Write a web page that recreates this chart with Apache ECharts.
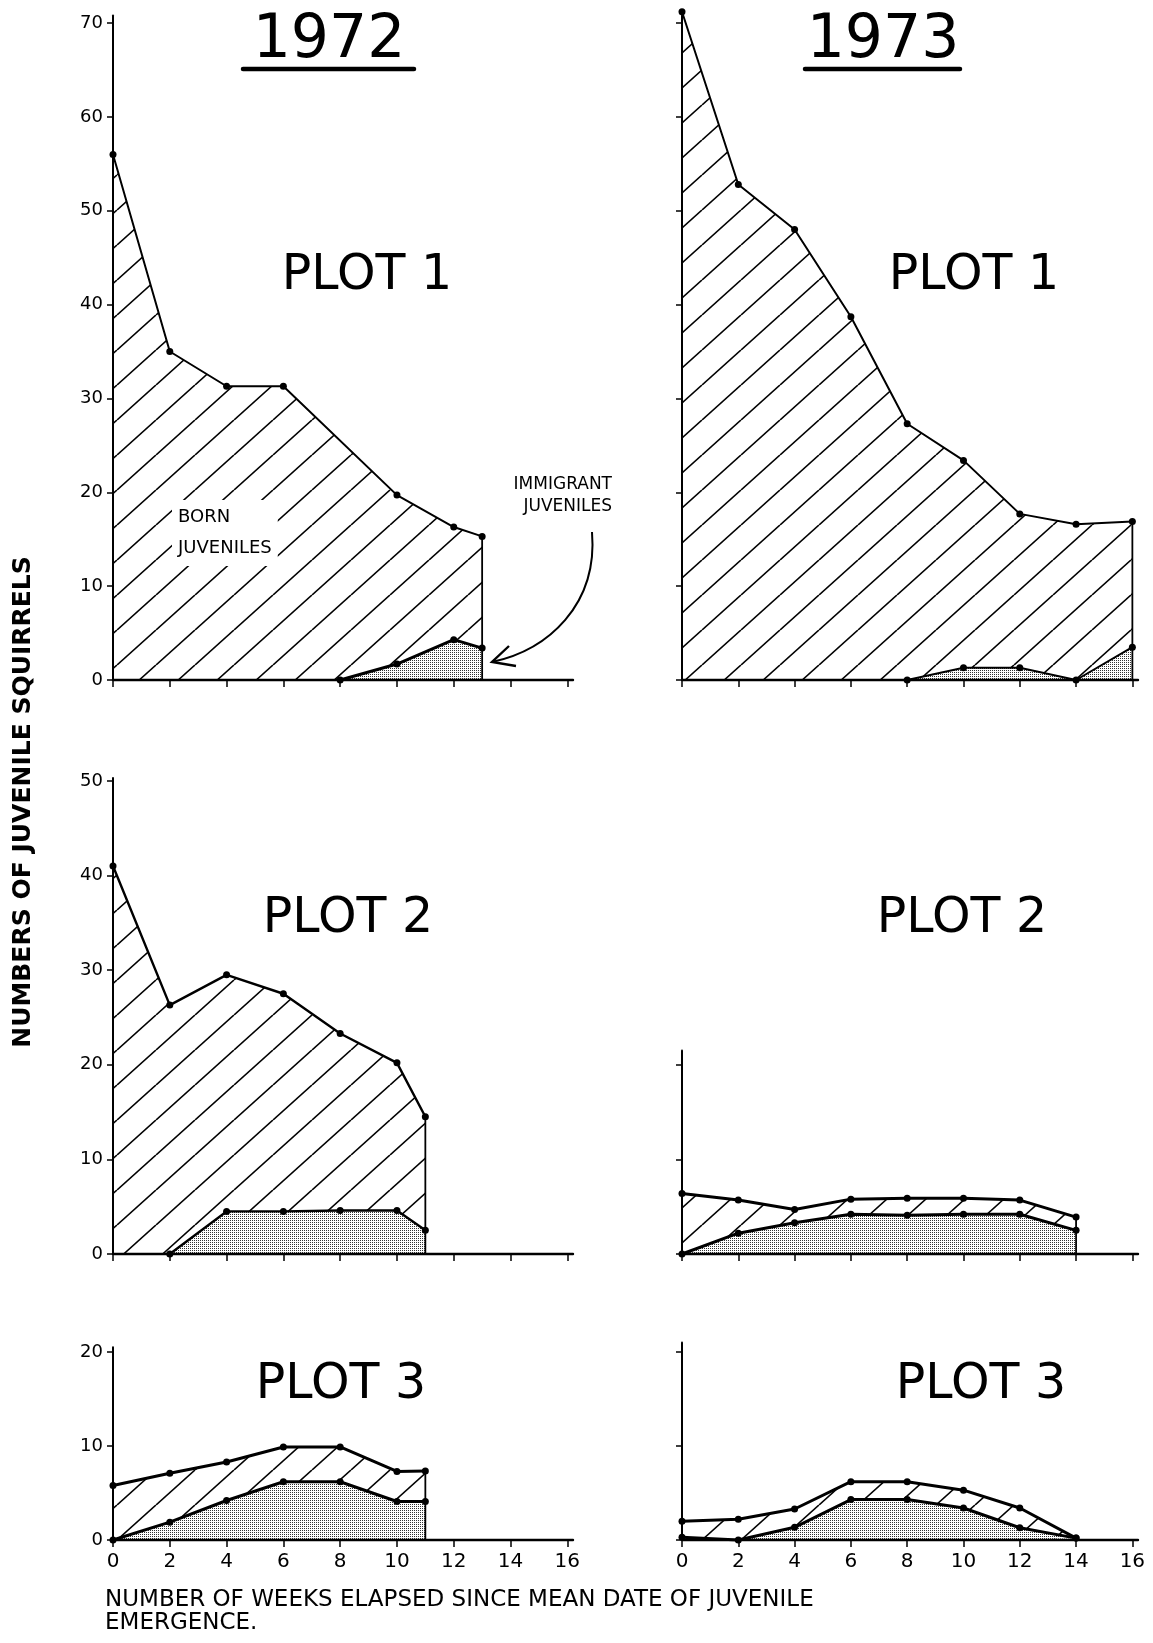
<!DOCTYPE html>
<html>
<head>
<meta charset="utf-8">
<script src="https://cdn.jsdelivr.net/npm/echarts@6/dist/echarts.min.js"></script>
<style>
html, body { margin: 0; background: #fff; }
#chart { width: 1153px; height: 1643px; }
</style>
</head>
<body>
<div id="chart"></div>
<script>
var weekTicks = [0, 2, 4, 6, 8, 10, 12, 14, 16];

// 1972 plot 1
var weeks72p1 = [0, 2, 4, 6, 10, 12, 13];
var total72p1 = [56, 35, 31.3, 31.3, 19.7, 16.3, 15.3];
var immWeeks72p1 = [8, 10, 12, 13];
var imm72p1 = [0, 1.7, 4.3, 3.4];

// 1973 plot 1
var weeks73p1 = [0, 2, 4, 6, 8, 10, 12, 14, 16];
var total73p1 = [71.2, 52.8, 48, 38.7, 27.3, 23.4, 17.7, 16.6, 16.9];
var immWeeks73p1 = [8, 10, 12, 14, 16];
var imm73p1 = [0, 1.3, 1.3, 0, 3.5];

// 1972 plot 2
var weeks72p2 = [0, 2, 4, 6, 8, 10, 11];
var total72p2 = [41, 26.3, 29.5, 27.5, 23.3, 20.2, 14.5];
var immWeeks72p2 = [2, 4, 6, 8, 10, 11];
var imm72p2 = [0, 4.5, 4.5, 4.6, 4.6, 2.5];

// 1973 plot 2
var weeks73p2 = [0, 2, 4, 6, 8, 10, 12, 14];
var total73p2 = [6.4, 5.7, 4.7, 5.8, 5.9, 5.9, 5.7, 3.9];
var imm73p2 = [0, 2.2, 3.3, 4.2, 4.1, 4.2, 4.2, 2.5];

// 1972 plot 3
var weeks72p3 = [0, 2, 4, 6, 8, 10, 11];
var total72p3 = [5.8, 7.1, 8.3, 9.9, 9.9, 7.3, 7.35];
var imm72p3 = [0, 1.9, 4.2, 6.2, 6.2, 4.1, 4.1];

// 1973 plot 3
var weeks73p3 = [0, 2, 4, 6, 8, 10, 12, 14];
var total73p3 = [2.0, 2.2, 3.3, 6.2, 6.2, 5.3, 3.4, 0.2];
var imm73p3 = [0.3, 0, 1.35, 4.3, 4.3, 3.4, 1.3, 0.2];

var ticks70 = [0, 10, 20, 30, 40, 50, 60, 70];
var ticks50 = [0, 10, 20, 30, 40, 50];
var ticks20 = [0, 10, 20];

var FONT = '"DejaVu Sans", sans-serif';

function pairs(xs, ys) {
    return xs.map(function (x, i) { return [x, ys[i]]; });
}

function hatchPattern() {
    var w = 39, h = 35;
    var c = document.createElement('canvas');
    c.width = w; c.height = h;
    var ctx = c.getContext('2d');
    ctx.strokeStyle = '#000';
    ctx.lineWidth = 1.6;
    [-w, 0, w].forEach(function (dx) {
        ctx.beginPath();
        ctx.moveTo(dx, h);
        ctx.lineTo(dx + w, 0);
        ctx.stroke();
    });
    return { image: c, repeat: 'repeat' };
}

function stipplePattern() {
    var c = document.createElement('canvas');
    c.width = 2; c.height = 2;
    var ctx = c.getContext('2d');
    ctx.fillStyle = '#fff';
    ctx.fillRect(0, 0, 2, 2);
    ctx.fillStyle = '#333';
    ctx.fillRect(0, 0, 1, 1);
    return { image: c, repeat: 'repeat' };
}

var hatch = hatchPattern();
var stipple = stipplePattern();

var panels = [
    { grid: { left: 113, width: 460, top: 15.5, height: 664.5 }, max: 70.8, ticks: ticks70, yLabels: true, xLabels: false,
      total: pairs(weeks72p1, total72p1), imm: pairs(immWeeks72p1, imm72p1), lw: 2 },
    { grid: { left: 682, width: 456, top: 15.5, height: 664.5 }, max: 70.8, ticks: ticks70, yLabels: false, xLabels: false,
      total: pairs(weeks73p1, total73p1), imm: pairs(immWeeks73p1, imm73p1), lw: 2 },
    { grid: { left: 113, width: 460, top: 778, height: 476 }, max: 50.3, ticks: ticks50, yLabels: true, xLabels: false,
      total: pairs(weeks72p2, total72p2), imm: pairs(immWeeks72p2, imm72p2), lw: 2.4 },
    { grid: { left: 682, width: 456, top: 1050.6, height: 203.4 }, max: 21.5, ticks: ticks20, yLabels: false, xLabels: false,
      total: pairs(weeks73p2, total73p2), imm: pairs(weeks73p2, imm73p2), lw: 3 },
    { grid: { left: 113, width: 460, top: 1347.3, height: 192.7 }, max: 20.5, ticks: ticks20, yLabels: true, xLabels: true,
      total: pairs(weeks72p3, total72p3), imm: pairs(weeks72p3, imm72p3), lw: 3 },
    { grid: { left: 682, width: 456, top: 1342.6, height: 197.4 }, max: 21, ticks: ticks20, yLabels: false, xLabels: true,
      total: pairs(weeks73p3, total73p3), imm: pairs(weeks73p3, imm73p3), lw: 3 }
];

var grids = [], xAxes = [], yAxes = [], series = [];

panels.forEach(function (p, i) {
    grids.push(p.grid);
    xAxes.push({
        type: 'value', gridIndex: i, min: 0, max: 16.2, z: 10,
        axisLine: { show: true, onZero: false, lineStyle: { color: '#000', width: 2.4 } },
        axisTick: { show: true, length: 7, customValues: weekTicks, lineStyle: { color: '#000', width: 1.5 } },
        axisLabel: { show: p.xLabels, customValues: weekTicks, margin: 12, color: '#000', fontSize: 20, fontFamily: FONT },
        splitLine: { show: false }
    });
    yAxes.push({
        type: 'value', gridIndex: i, min: 0, max: p.max, z: 10,
        axisLine: { show: true, onZero: false, lineStyle: { color: '#000', width: 2 } },
        axisTick: { show: true, length: 6, customValues: p.ticks, lineStyle: { color: '#000', width: 1.5 } },
        axisLabel: { show: p.yLabels, customValues: p.ticks, margin: 10, color: '#000', fontSize: 18, fontFamily: FONT },
        splitLine: { show: false }
    });

    var base = { type: 'line', xAxisIndex: i, yAxisIndex: i, clip: false, silent: true, animation: false };

    // hatched area under the total count
    series.push(Object.assign({}, base, {
        data: p.total, symbol: 'none', z: 1,
        lineStyle: { width: 0, opacity: 0 },
        areaStyle: { color: hatch, opacity: 1 }
    }));
    // stippled area under the immigrant count
    series.push(Object.assign({}, base, {
        data: p.imm, symbol: 'none', z: 2,
        lineStyle: { width: 0, opacity: 0 },
        areaStyle: { color: stipple, opacity: 1 }
    }));
    // lines with dots
    [p.total, p.imm].forEach(function (d, k) {
        series.push(Object.assign({}, base, {
            data: d, symbol: 'circle', symbolSize: 7, z: 4,
            itemStyle: { color: '#000' },
            lineStyle: { color: '#000', width: k === 1 && i === 0 ? 3 : p.lw }
        }));
    });
    // closing vertical edge at the last week
    var last = p.total[p.total.length - 1];
    if (last[1] > 1) {
        series.push(Object.assign({}, base, {
            data: [[last[0], last[1]], [last[0], 0]], symbol: 'none', z: 3,
            lineStyle: { color: '#000', width: 1.8 }
        }));
    }
});

function label(text, x, y, size, extra) {
    return {
        type: 'text', x: x, y: y, z: 20,
        style: Object.assign({
            text: text, font: size + 'px ' + FONT, fill: '#000',
            textAlign: 'center', textVerticalAlign: 'middle'
        }, extra || {})
    };
}

var yTitle = label('NUMBERS OF JUVENILE SQUIRRELS', 23, 802, 25, { font: 'bold 25px ' + FONT });
yTitle.rotation = Math.PI / 2;

var graphics = [
    label('1972', 329, 41, 60),
    label('1973', 883, 41, 60),
    { type: 'line', z: 20, shape: { x1: 243, y1: 69, x2: 414, y2: 69 }, style: { stroke: '#000', lineWidth: 4.5, lineCap: 'round' } },
    { type: 'line', z: 20, shape: { x1: 805, y1: 69, x2: 960, y2: 69 }, style: { stroke: '#000', lineWidth: 4.5, lineCap: 'round' } },
    label('PLOT 1', 367, 276, 49),
    label('PLOT 1', 974, 276, 49),
    label('PLOT 2', 348, 919, 49),
    label('PLOT 2', 962, 919, 49),
    label('PLOT 3', 341, 1385, 49),
    label('PLOT 3', 981, 1385, 49),
    label('BORN\nJUVENILES', 172, 533, 18, { textAlign: 'left', lineHeight: 31, backgroundColor: '#fff', padding: [2, 6] }),
    label('IMMIGRANT\nJUVENILES', 614, 496, 17, { textAlign: 'right', lineHeight: 22, backgroundColor: '#fff', padding: [2, 2] }),
    { type: 'bezierCurve', z: 20,
      shape: { x1: 592, y1: 532, cpx1: 598, cpy1: 605, cpx2: 548, cpy2: 650, x2: 492, y2: 662 },
      style: { stroke: '#000', lineWidth: 2, fill: null } },
    { type: 'polyline', z: 20,
      shape: { points: [[509, 646], [492, 662], [516, 666]] },
      style: { stroke: '#000', lineWidth: 2.4, fill: null } },
    yTitle,
    label('NUMBER OF WEEKS ELAPSED SINCE MEAN DATE OF JUVENILE', 105, 1600, 23, { textAlign: 'left' }),
    label('EMERGENCE.', 105, 1623, 23, { textAlign: 'left' })
];

var chart = echarts.init(document.getElementById('chart'));
chart.setOption({
    animation: false,
    backgroundColor: '#fff',
    grid: grids,
    xAxis: xAxes,
    yAxis: yAxes,
    series: series,
    graphic: graphics
});
</script>
</body>
</html>
